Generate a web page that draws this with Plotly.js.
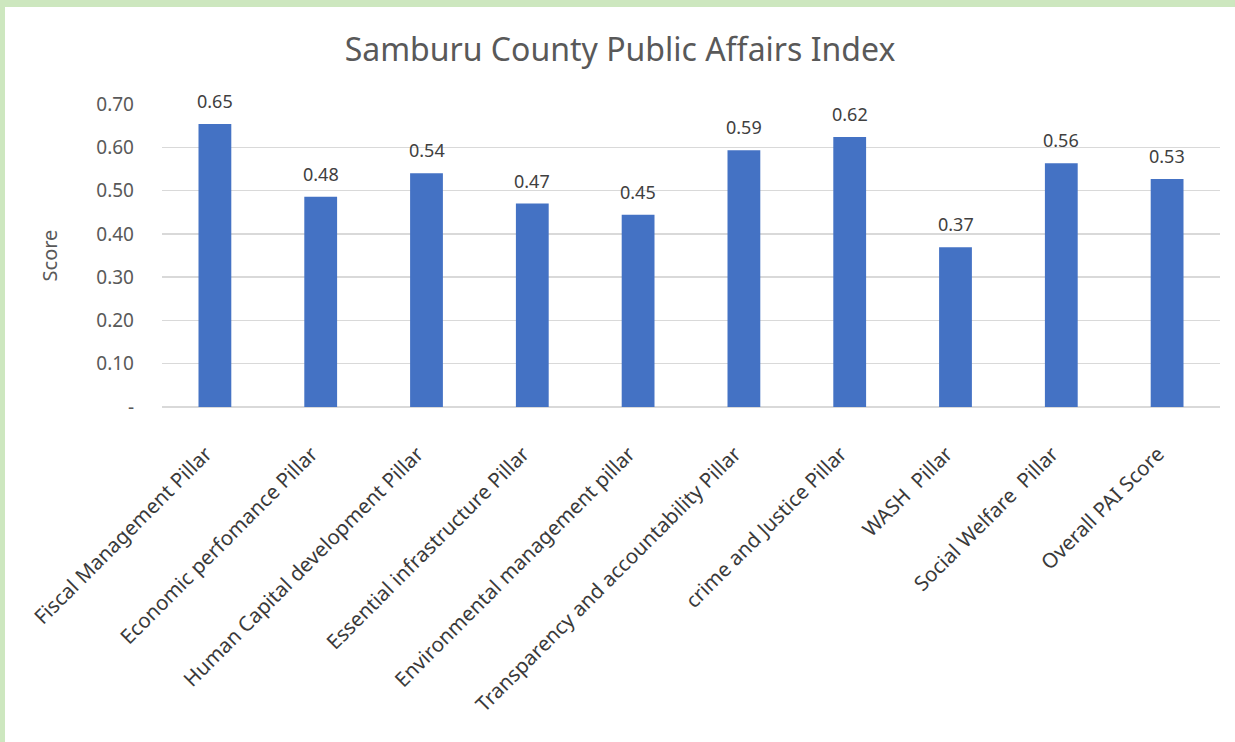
<!DOCTYPE html>
<html>
<head>
<meta charset="utf-8">
<script src="https://cdn.plot.ly/plotly-3.0.1.min.js"></script>
<style>
  html, body { margin: 0; padding: 0; width: 1235px; height: 742px; overflow: hidden; background: #cde7bf; }
  #chart { position: absolute; left: 5px; top: 7px; width: 1230px; height: 735px; background: #ffffff; }
</style>
</head>
<body>
<div id="chart"></div>
<script>
const categories = [
  "Fiscal Management Pillar",
  "Economic perfomance Pillar",
  "Human Capital development Pillar",
  "Essential infrastructure Pillar",
  "Environmental management pillar",
  "Transparency and accountability Pillar",
  "crime and Justice Pillar",
  "WASH  Pillar",
  "Social Welfare  Pillar",
  "Overall PAI Score"
];
const scores = [0.654, 0.486, 0.540, 0.470, 0.444, 0.593, 0.624, 0.369, 0.563, 0.527];
const scoreLabels = ["0.65", "0.48", "0.54", "0.47", "0.45", "0.59", "0.62", "0.37", "0.56", "0.53"];
const yTickVals = [0, 0.1, 0.2, 0.3, 0.4, 0.5, 0.6, 0.7];
const yTickText = ["-", "0.10", "0.20", "0.30", "0.40", "0.50", "0.60", "0.70"];

const font = "Noto Sans, Open Sans, sans-serif";

const trace = {
  type: "bar",
  x: categories,
  y: scores,
  marker: { color: "#4472c4" },
  hoverinfo: "skip"
};

const annotations = categories.map((c, i) => ({
  x: c,
  y: scores[i],
  xref: "x",
  yref: "y",
  text: scoreLabels[i],
  showarrow: false,
  xanchor: "center",
  yanchor: "bottom",
  yshift: 9,
  font: { family: font, size: 18, color: "#404040" }
}));

const layout = {
  width: 1230,
  height: 735,
  paper_bgcolor: "#ffffff",
  plot_bgcolor: "#ffffff",
  margin: { l: 157, r: 15, t: 97, b: 335 },
  bargap: 0.69,
  showlegend: false,
  annotations: annotations,
  title: {
    text: "Samburu County Public Affairs Index",
    font: { family: font, size: 32, color: "#595959" },
    x: 0.5, xanchor: "center",
    y: 0.942, yanchor: "middle"
  },
  xaxis: {
    type: "category",
    tickangle: -45,
    tickfont: { family: font, size: 20.5, color: "#3a3a3a" },
    showline: false,
    ticks: "",
    showgrid: false,
    ticklabelstandoff: 30,
    ticklabelshift: -9,
    automargin: false
  },
  yaxis: {
    range: [0, 0.7],
    tickvals: yTickVals,
    ticktext: yTickText,
    tickfont: { family: font, size: 19, color: "#595959" },
    showgrid: true,
    gridcolor: "#d9d9d9",
    gridwidth: 1.5,
    zeroline: true,
    zerolinecolor: "#d9d9d9",
    zerolinewidth: 1.5,
    showline: false,
    ticks: "",
    ticklen: 0,
    ticklabelstandoff: 27,
    automargin: false,
    title: {
      text: "Score",
      font: { family: font, size: 20, color: "#595959" },
      standoff: 33
    }
  }
};

Plotly.newPlot("chart", [trace], layout, { displayModeBar: false, staticPlot: true });
</script>
</body>
</html>
